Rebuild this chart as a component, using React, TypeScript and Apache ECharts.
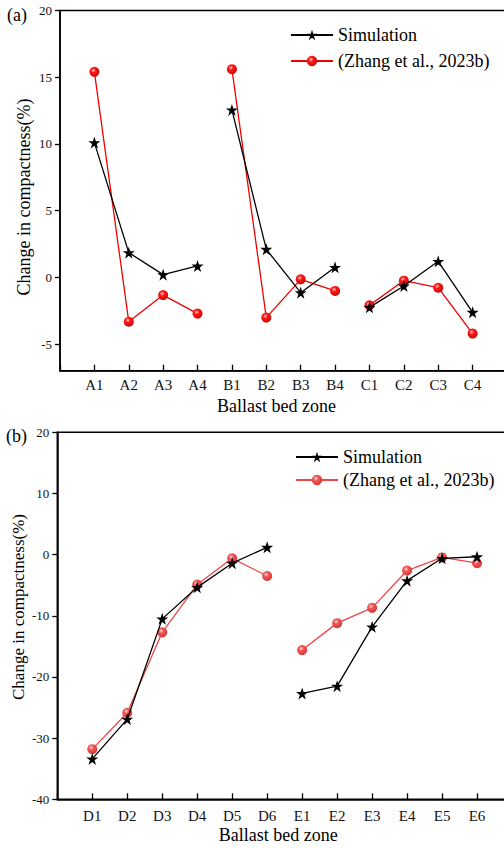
import React, { useEffect, useRef } from "react";
import * as echarts from "echarts";

// ---- Data ----
const topCategories = ["A1", "A2", "A3", "A4", "B1", "B2", "B3", "B4", "C1", "C2", "C3", "C4"];
const topGroupSize = 4;
const topSimulation = [10.1, 1.85, 0.2, 0.85, 12.55, 2.1, -1.15, 0.75, -2.25, -0.65, 1.2, -2.62];
const topZhang = [15.4, -3.33, -1.33, -2.72, 15.6, -3.02, -0.15, -1.02, -2.1, -0.25, -0.78, -4.22];
const topYTicks = [-5, 0, 5, 10, 15, 20];

const botCategories = ["D1", "D2", "D3", "D4", "D5", "D6", "E1", "E2", "E3", "E4", "E5", "E6"];
const botGroupSize = 6;
const botSimulation = [-33.4, -26.9, -10.5, -5.35, -1.4, 1.2, -22.7, -21.5, -11.8, -4.25, -0.6, -0.35];
const botZhang = [-31.8, -25.85, -12.7, -4.9, -0.6, -3.5, -15.6, -11.2, -8.7, -2.6, -0.45, -1.4];

const SIM = "Simulation";
const REF = "(Zhang et al., 2023b)";
const X_NAME = "Ballast bed zone";
const Y_NAME = "Change in compactness(%)";

const FONT = "'Liberation Serif', 'Times New Roman', 'DejaVu Serif', serif";
const STAR =
  "path://M50,0 L61.2,34.5 L97.6,34.5 L68.2,55.9 L79.4,90.5 L50,69.1 L20.6,90.5 L31.8,55.9 L2.4,34.5 L38.8,34.5 Z";

function groupData(values: number[], size: number, g: number) {
  return values.slice(g * size, (g + 1) * size).map((v, i) => [g * size + i + 1, v]);
}

function redBall(light: boolean) {
  return {
    type: "radial",
    x: 0.4,
    y: 0.35,
    r: 0.75,
    colorStops: light
      ? [
          { offset: 0, color: "#ffe0e0" },
          { offset: 0.3, color: "#f05a5a" },
          { offset: 1, color: "#d42a2a" },
        ]
      : [
          { offset: 0, color: "#ffd0d0" },
          { offset: 0.3, color: "#ff1a1a" },
          { offset: 1, color: "#c00000" },
        ],
  };
}

export default function App() {
  const ref = useRef<HTMLDivElement>(null);

  useEffect(() => {
    if (!ref.current) return;
    const chart = echarts.init(ref.current, undefined, { renderer: "svg" });

    const series: any[] = [];
    const nTop = topCategories.length / topGroupSize;
    for (let g = 0; g < nTop; g++) {
      series.push({
        name: SIM,
        type: "line",
        xAxisIndex: 0,
        yAxisIndex: 0,
        data: groupData(topSimulation, topGroupSize, g),
        symbol: STAR,
        symbolSize: 12,
        lineStyle: { color: "#000", width: 1.3 },
        itemStyle: { color: "#000" },
        z: 3,
      });
      series.push({
        name: REF,
        type: "line",
        xAxisIndex: 0,
        yAxisIndex: 0,
        data: groupData(topZhang, topGroupSize, g),
        symbol: "circle",
        symbolSize: 10,
        lineStyle: { color: "#ee0000", width: 1.3 },
        itemStyle: { color: redBall(false) },
        z: 2,
      });
    }
    const nBot = botCategories.length / botGroupSize;
    for (let g = 0; g < nBot; g++) {
      series.push({
        name: SIM + " ",
        type: "line",
        xAxisIndex: 1,
        yAxisIndex: 1,
        data: groupData(botSimulation, botGroupSize, g),
        symbol: STAR,
        symbolSize: 12,
        lineStyle: { color: "#000", width: 1.3 },
        itemStyle: { color: "#000" },
        z: 3,
      });
      series.push({
        name: REF + " ",
        type: "line",
        xAxisIndex: 1,
        yAxisIndex: 1,
        data: groupData(botZhang, botGroupSize, g),
        symbol: "circle",
        symbolSize: 10,
        lineStyle: { color: "#ec4646", width: 1.3 },
        itemStyle: { color: redBall(true) },
        z: 2,
      });
    }

    const axisLine = { show: true, onZero: false, lineStyle: { color: "#000", width: 1.5 } };
    const xLabel = { color: "#111", fontFamily: FONT, fontSize: 15, margin: 7 };
    const yLabel = { color: "#111", fontFamily: FONT, fontSize: 13, margin: 8 };
    const legendText = { color: "#000", fontFamily: FONT, fontSize: 18 };

    chart.setOption({
      animation: false,
      backgroundColor: "#fff",
      textStyle: { fontFamily: FONT },
      grid: [
        {
          left: 60,
          right: -3,
          top: 10.5,
          bottom: 848 - 370.7,
          containLabel: false,
          outerBoundsMode: "none",
          show: true,
          borderColor: "#000",
          borderWidth: 1.5,
          backgroundColor: "transparent",
        },
        {
          left: 57.3,
          right: -8,
          top: 432.3,
          bottom: 848 - 799.3,
          containLabel: false,
          outerBoundsMode: "none",
          show: true,
          borderColor: "#000",
          borderWidth: 1.5,
          backgroundColor: "transparent",
        },
      ],
      legend: [
        {
          data: [SIM, REF],
          left: 285,
          top: 21,
          orient: "vertical",
          itemWidth: 42,
          itemHeight: 13,
          itemGap: 8,
          textStyle: legendText,
          formatter: (n: string) => n.trim(),
          selectedMode: false,
        },
        {
          data: [SIM + " ", REF + " "],
          left: 290,
          top: 443,
          orient: "vertical",
          itemWidth: 42,
          itemHeight: 13,
          itemGap: 5,
          textStyle: legendText,
          formatter: (n: string) => n.trim(),
          selectedMode: false,
        },
      ],
      xAxis: [
        {
          gridIndex: 0,
          type: "category",
          data: ["", ...topCategories, ""],
          boundaryGap: false,
          axisLine,
          axisTick: { show: true, inside: true, length: 6, lineStyle: { color: "#000", width: 1.3 } },
          axisLabel: { ...xLabel, interval: 0 },
          splitLine: { show: false },
          name: X_NAME,
          nameLocation: "middle",
          nameGap: 26,
          nameTextStyle: { color: "#000", fontFamily: FONT, fontSize: 18, padding: [0, 14, 0, 0] },
        },
        {
          gridIndex: 1,
          type: "category",
          data: ["", ...botCategories, ""],
          boundaryGap: false,
          axisLine,
          axisTick: { show: true, inside: true, length: 6, lineStyle: { color: "#000", width: 1.3 } },
          axisLabel: { ...xLabel, interval: 0, margin: 9 },
          splitLine: { show: false },
          name: X_NAME,
          nameLocation: "middle",
          nameGap: 27,
          nameTextStyle: { color: "#000", fontFamily: FONT, fontSize: 18, padding: [0, 13, 0, 0] },
        },
      ],
      yAxis: [
        {
          gridIndex: 0,
          type: "value",
          min: -7,
          max: 20,
          axisLine,
          axisTick: {
            show: true,
            inside: false,
            length: 5,
            customValues: topYTicks,
            lineStyle: { color: "#000", width: 1.3 },
          },
          axisLabel: { ...yLabel, customValues: topYTicks },
          splitLine: { show: false },
        },
        {
          gridIndex: 1,
          type: "value",
          min: -40,
          max: 20,
          interval: 10,
          axisLine,
          axisTick: { show: true, inside: false, length: 5, lineStyle: { color: "#000", width: 1.3 } },
          axisLabel: yLabel,
          splitLine: { show: false },
        },
      ],
      graphic: [
        {
          type: "text",
          left: 7,
          top: 6,
          style: { text: "(a)", fontFamily: FONT, fontSize: 18, fill: "#000" },
        },
        {
          type: "text",
          left: 6,
          top: 427,
          style: { text: "(b)", fontFamily: FONT, fontSize: 18, fill: "#000" },
        },
        {
          type: "text",
          x: 24,
          y: 197,
          rotation: Math.PI / 2,
          style: {
            text: Y_NAME,
            fontFamily: FONT,
            fontSize: 18,
            fill: "#000",
            align: "center",
            verticalAlign: "middle",
          },
        },
        {
          type: "text",
          x: 18,
          y: 607,
          rotation: Math.PI / 2,
          style: {
            text: Y_NAME,
            fontFamily: FONT,
            fontSize: 17,
            fill: "#000",
            align: "center",
            verticalAlign: "middle",
          },
        },
      ],
      series,
    });

    return () => chart.dispose();
  }, []);

  return (
    <div
      ref={ref}
      style={{ position: "fixed", left: 0, top: 0, width: 504, height: 848, background: "#fff" }}
    />
  );
}
